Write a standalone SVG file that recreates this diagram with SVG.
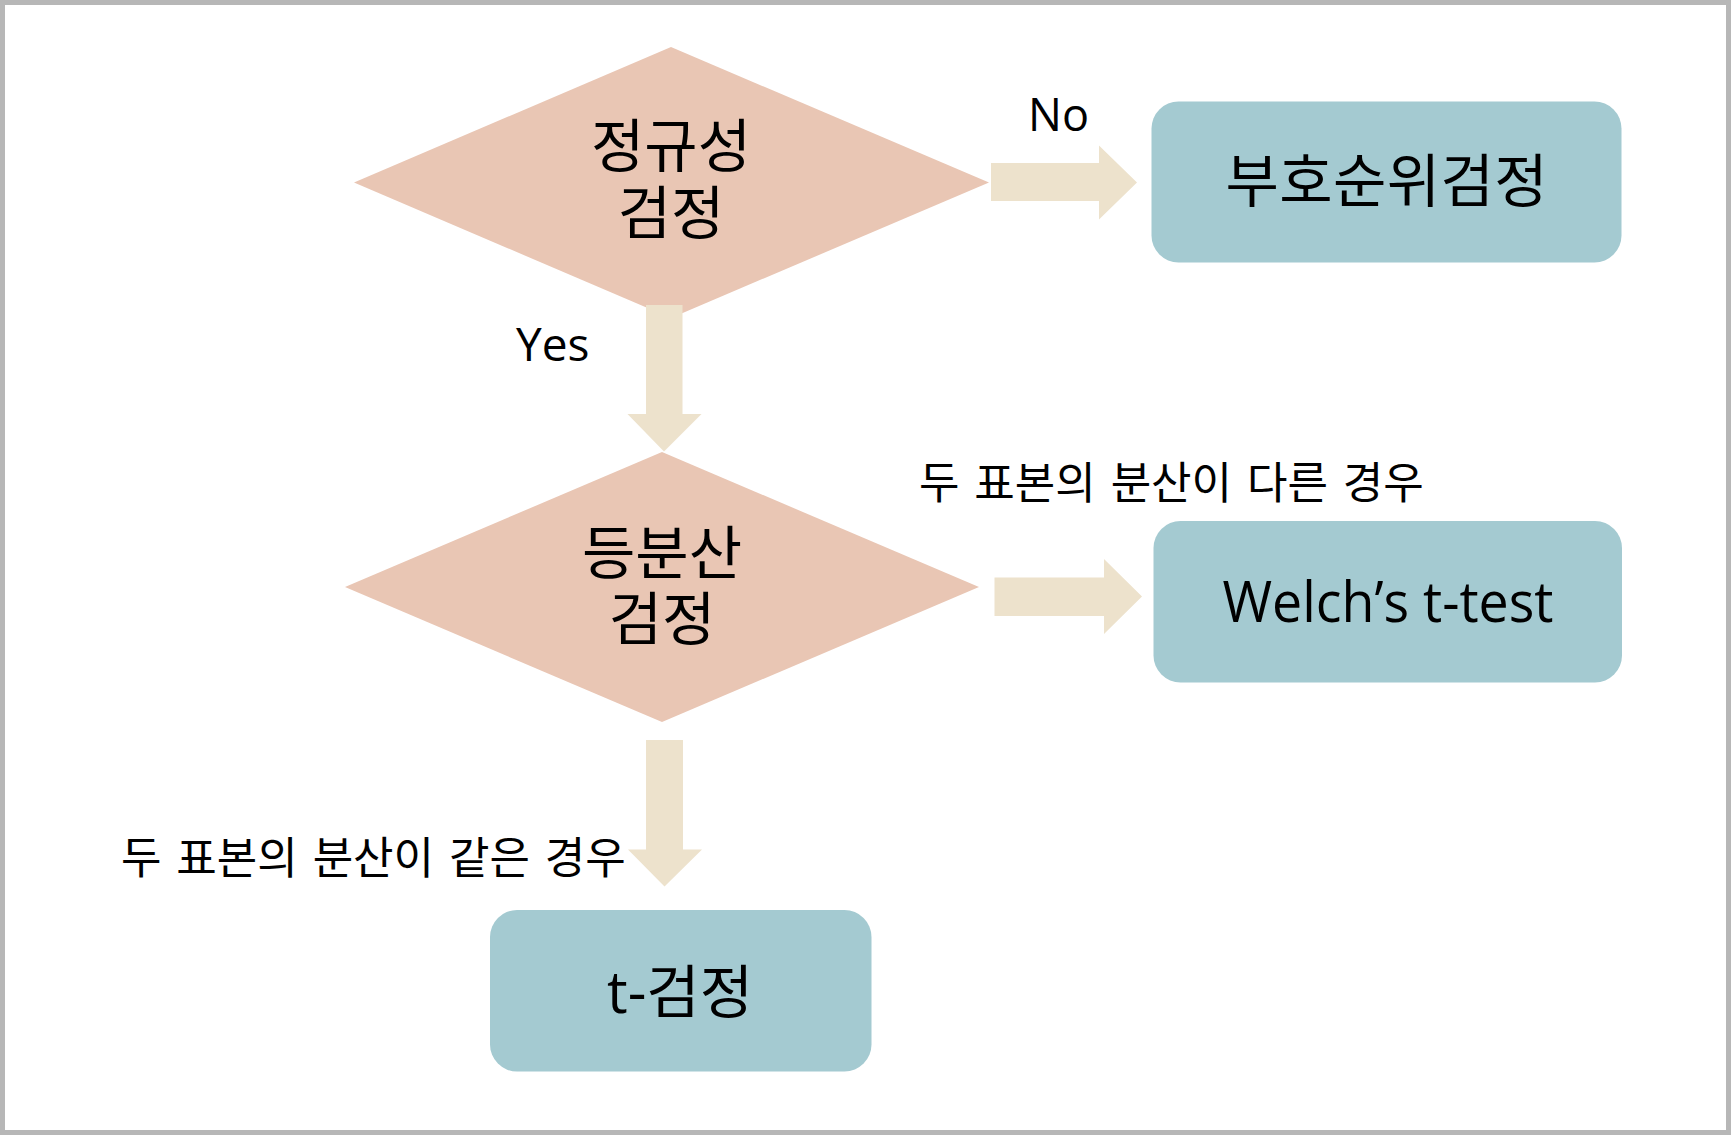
<svg xmlns="http://www.w3.org/2000/svg" width="1731" height="1135" viewBox="0 0 1731 1135">
  <style>
    .dia { fill: #E9C6B4; }
    .box { fill: #A4CAD1; }
    .arrow { fill: #EDE2CC; }
    .ko { font-family: "Noto Sans CJK KR", "Noto Sans", sans-serif; fill: #000; }
    .lat { font-family: "Open Sans", "Noto Sans CJK KR", sans-serif; fill: #000; }
    .big { font-size: 58px; }
    .lbl { font-size: 44px; word-spacing: 5px; }
  </style>
  <rect x="0" y="0" width="1731" height="1135" fill="#FFFFFF"/>
  <rect x="2.5" y="2.5" width="1726" height="1130" fill="none" stroke="#B7B7B7" stroke-width="5"/>

  <g id="decision-normality">
    <polygon class="dia" points="671,47 989,182.5 671,318 354,182.5"/>
    <text class="ko big" text-anchor="middle"><tspan x="671" y="167">정규성</tspan><tspan x="671" y="234">검정</tspan></text>
  </g>

  <g id="decision-equal-variance">
    <polygon class="dia" points="662,452 979,587 662,722 345,587"/>
    <text class="ko big" text-anchor="middle"><tspan x="662" y="574">등분산</tspan><tspan x="662" y="640">검정</tspan></text>
  </g>

  <g id="node-signed-rank">
    <rect class="box" x="1151.5" y="101.5" width="470" height="161" rx="27" ry="27"/>
    <text class="ko big" text-anchor="middle" x="1386.5" y="201.5" textLength="322" lengthAdjust="spacing">부호순위검정</text>
  </g>

  <g id="node-welch">
    <rect class="box" x="1153.5" y="521" width="468.5" height="161.5" rx="27" ry="27"/>
    <text class="lat" font-size="57" text-anchor="middle" x="1388" y="621.5" textLength="331" lengthAdjust="spacingAndGlyphs">Welch’s t-test</text>
  </g>

  <g id="node-t-test">
    <rect class="box" x="490" y="910" width="381.5" height="161.5" rx="27" ry="27"/>
    <text class="lat" font-size="58" text-anchor="middle" x="680" y="1013">t-<tspan class="ko">검정</tspan></text>
  </g>

  <g id="connectors">
    <polygon class="arrow" points="991,163 1099,163 1099,145.5 1137,182.5 1099,219.5 1099,201 991,201"/>
    <polygon class="arrow" points="646,305 682.5,305 682.5,414 701.5,414 664,451.5 627.5,414 646,414"/>
    <polygon class="arrow" points="994.5,577.5 1104,577.5 1104,559 1142,596.5 1104,634 1104,616 994.5,616"/>
    <polygon class="arrow" points="646,740 683,740 683,849.5 702,849.5 664.5,886.5 628,849.5 646,849.5"/>
    <text class="lat" font-size="45" x="1028" y="131">No</text>
    <text class="lat" font-size="46" x="516" y="360.5">Yes</text>
    <text class="ko lbl" x="919" y="499">두 표본의 분산이 다른 경우</text>
    <text class="ko lbl" x="121" y="874">두 표본의 분산이 같은 경우</text>
  </g>
</svg>
